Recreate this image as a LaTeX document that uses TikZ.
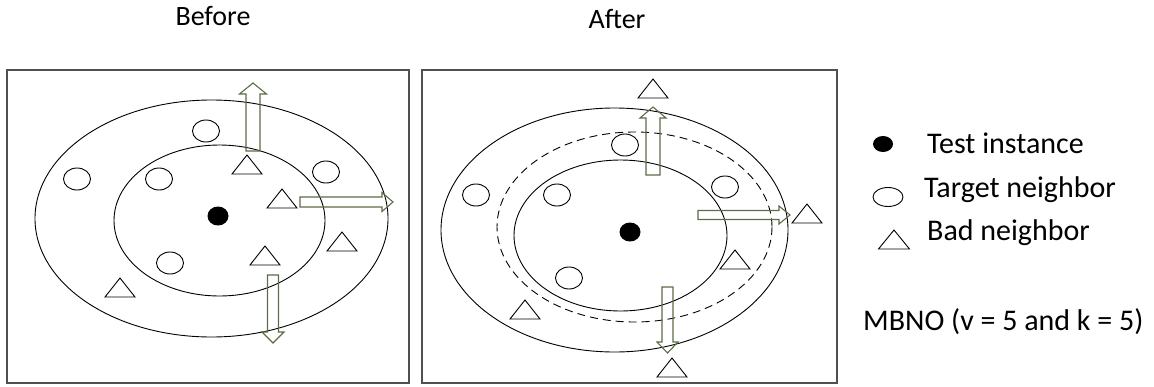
\documentclass[tikz,border=0pt]{standalone}
\usepackage{fontspec}
\setmainfont{Carlito}
\usetikzlibrary{positioning}
\definecolor{pushgreen}{RGB}{92,108,72}
\definecolor{framegray}{RGB}{80,80,80}
% bad neighbor, given by its apex
\newcommand\badtri[2]{\draw[tri] (#1,#2) -- ++(-15,19) -- ++(30,0) -- cycle;}
% block arrow: tip, turn, length, shaft half width, head half width
\newcommand\pusharrow[5]{%
  \begin{scope}[shift={(#1)}, rotate=#2]
    \draw[push] (0,0) -- (#5,11) -- (#4,11) -- (#4,#3) -- (-#4,#3) -- (-#4,11) -- (-#5,11) -- cycle;
  \end{scope}}

\begin{document}
\begin{tikzpicture}[x=1pt, y=-1pt,
  frame/.style={draw=framegray, line width=1.4pt},
  ring/.style={draw, line width=0.9pt},
  nb/.style={draw, line width=0.9pt},
  tri/.style={draw, line width=0.9pt, line join=miter},
  push/.style={draw=pushgreen, line width=1.1pt},
  lbl/.style={inner sep=0pt, font=\fontsize{28}{30}\selectfont},
  key/.style={inner sep=0pt, font=\fontsize{30}{32}\selectfont}]
\useasboundingbox (0,0) rectangle (1154,386);

% titles
\node[lbl, anchor=base] (before) at (213,25) {Before};
\node[lbl, anchor=base] (after) at (617,28) {After};

% before
\draw[frame] (7,70) rectangle (409,383);
\draw[ring] (211.5,218.5) ellipse (176.5 and 118.5);
\draw[ring] (219.5,220.5) ellipse (105.5 and 75.5);
\fill (218,216) ellipse (10.5 and 9.5);
\foreach \x/\y in {206/131, 77/179, 159/179, 326/172, 170/263}
  \draw[nb] (\x,\y) ellipse (13.5 and 11);
\badtri{247}{155}
\badtri{282}{189}
\badtri{342}{232}
\badtri{265}{246}
\badtri{120}{278}
\pusharrow{253,83}{0}{68}{7}{13.5}
\pusharrow{393,202}{-90}{93}{5}{9.5}
\pusharrow{273,343}{180}{68}{5.5}{11}

% after
\draw[frame] (422,70) rectangle (837,383);
\draw[ring] (614.5,230) ellipse (173.5 and 122);
\draw[ring, dash pattern=on 8pt off 5pt] (634.5,227) ellipse (137.5 and 95);
\draw[ring] (620.5,235.5) ellipse (106.5 and 75.5);
\fill (630,232) ellipse (10.5 and 9.5);
\foreach \x/\y in {625/145, 476/195, 557/195, 725/187, 569/278}
  \draw[nb] (\x,\y) ellipse (13.5 and 11);
\badtri{653}{79}
\badtri{807}{204}
\badtri{735}{250}
\badtri{525}{300}
\badtri{672}{358}
\pusharrow{653,107}{0}{68}{7}{13}
\pusharrow{790,215}{-90}{92}{4.5}{9}
\pusharrow{667.5,353}{180}{66}{5.5}{10.5}

% legend
\fill (883,144) ellipse (10 and 8);
\node[key, anchor=base west] (test) at (927,153) {Test instance};
\draw[nb] (888,197) ellipse (15 and 9.5);
\node[key, anchor=base west] (target) at (924,197) {Target neighbor};
\draw[tri] (894,230) -- ++(-15.5,19) -- ++(31,0) -- cycle;
\node[key, anchor=base west] (bad) at (927,240) {Bad neighbor};
\node[key, anchor=base west] (mbno) at (863,330) {MBNO (v = 5 and k = 5)};
\end{tikzpicture}
\end{document}
